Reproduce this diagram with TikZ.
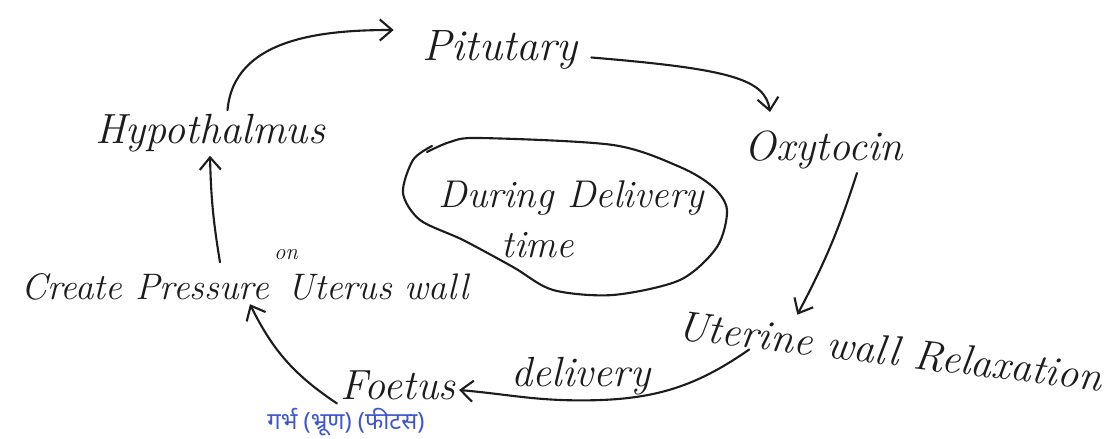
\documentclass[tikz,border=0pt]{standalone}
\usepackage{fontspec}
\usepackage{tikz}
\usetikzlibrary{arrows.meta}
\newfontfamily\devfont[Script=Devanagari]{Noto Sans}
\definecolor{inkblack}{RGB}{28,28,28}
\definecolor{inkblue}{RGB}{60,85,205}

\begin{document}
\begin{tikzpicture}[>={Straight Barb[length=7pt,width=12pt]},
    hand/.style={font=\itshape\fontsize{24}{28}\selectfont,text=inkblack,inner sep=2pt},
    flow/.style={->,draw=inkblack,line width=1.2pt,line cap=round}]
    \useasboundingbox (0,0) rectangle (22.36,8.78);

    % Stages of the cycle
    \node[hand,font=\itshape\fontsize{25}{29}\selectfont] (pit) at (10.0,7.78) {Pitutary};
    \node[hand] (hyp) at (4.2,6.12) {Hypothalmus};
    \node[hand] (oxy) at (16.48,5.78) {Oxytocin};
    \node[hand,rotate=-7] (uter) at (17.8,1.76) {Uterine wall Relaxation};
    \node[hand] (deliv) at (11.62,1.26) {delivery};
    \node[hand] (foe) at (7.96,1.08) {Foetus};
    \node[hand,font=\itshape\fontsize{21}{25}\selectfont] (create) at (4.9,3.04) {Create Pressure\hspace{0.5em}Uterus wall};
    \node[hand,font=\itshape\fontsize{13}{15}\selectfont] (on) at (5.72,3.68) {on};
    \node[text=inkblue,font=\devfont\fontsize{13.5}{15}\selectfont] (hindi) at (6.92,0.34) {गर्भ (भ्रूण) (फीटस)};

    % Centre loop
    \node[hand,font=\itshape\fontsize{22}{26}\selectfont] (during) at (11.42,4.82) {During Delivery};
    \node[hand,font=\itshape\fontsize{22}{26}\selectfont] (time) at (10.76,3.88) {time};
    \draw[inkblack,line width=1.2pt,line cap=round] plot[smooth] coordinates {(8.54,5.74) (9.0,5.94) (9.6,6.02)
        (12.26,5.88) (13.6,5.44) (14.26,5.04) (14.54,4.58) (14.34,3.84) (13.6,3.18) (12.26,2.88)
        (11.06,2.98) (10.26,3.44) (9.26,3.98) (8.4,4.38) (8.06,4.92) (8.26,5.58) (8.64,5.86)};

    % Arrows
    \draw[flow] ([xshift=0.35cm]hyp.north) to[out=85,in=180] ([xshift=-0.5cm,yshift=0.4cm]pit.west);
    \draw[flow] ([xshift=0.2cm,yshift=-0.15cm]pit.east) .. controls (14.6,7.4) and (15.3,7.2) .. ([xshift=-1.08cm,yshift=0.3cm]oxy.north);
    \draw[flow] ([xshift=0.66cm]oxy.south) to[bend left=5] ([xshift=-1.9cm,yshift=0.35cm]uter.north);
    \draw[flow] ([xshift=1.5cm,yshift=-0.5cm]uter.west) to[out=-145,in=0] ([yshift=-8pt]deliv.base)
        to[out=180,in=-5] ([yshift=-0.1cm]foe.east);
    \draw[flow] (foe.south west) to[bend left=15] ([xshift=0.1cm]create.south);
    \draw[flow] ([xshift=-0.5cm,yshift=0.15cm]create.north) to[bend left=4] (hyp.south);
\end{tikzpicture}
\end{document}
